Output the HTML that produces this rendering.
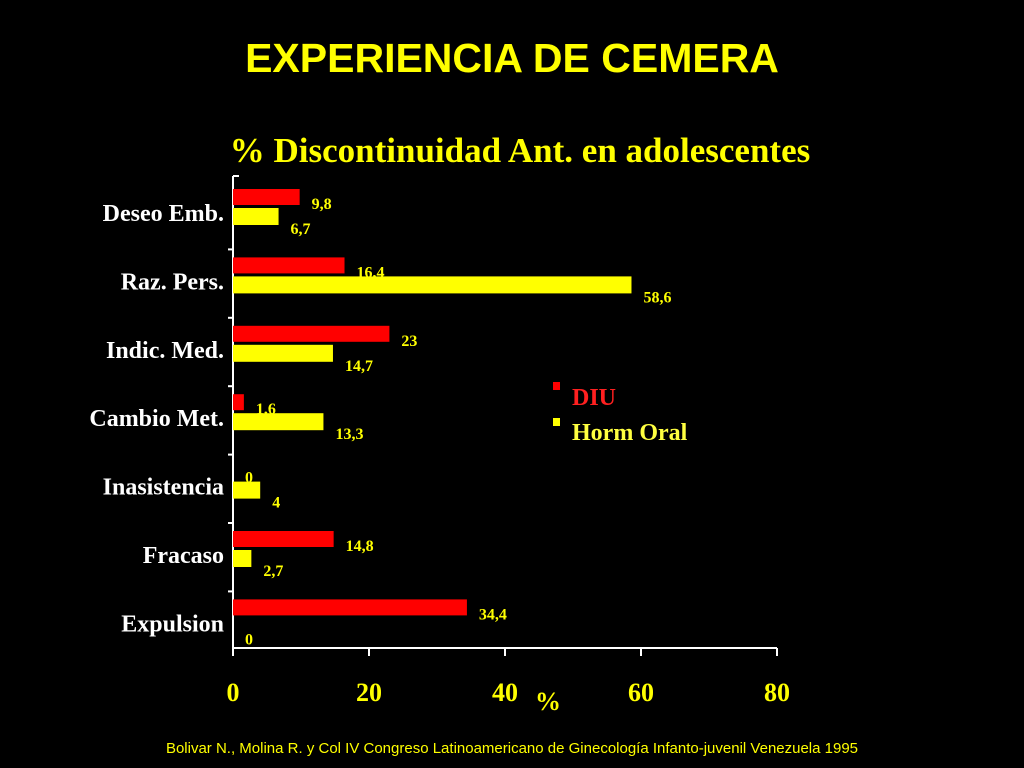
<!DOCTYPE html>
<html><head><meta charset="utf-8"><style>
body{margin:0;background:#000;width:1024px;height:768px;overflow:hidden}
svg{display:block}
.s{font-family:"Liberation Serif",serif;font-weight:bold}
</style></head><body>
<svg width="1024" height="768" viewBox="0 0 1024 768">
<text x="512" y="72" text-anchor="middle" font-family="Liberation Sans,sans-serif" font-weight="bold" font-size="41" fill="#ffff00">EXPERIENCIA DE CEMERA</text>
<text x="520" y="162" text-anchor="middle" class="s" font-size="35" fill="#ffff00">% Discontinuidad Ant. en adolescentes</text>
<g id="plot"></g>
<rect x="553" y="382" width="7" height="8" fill="#ff0000"/>
<text x="572" y="405" class="s" font-size="24" fill="#ff2020">DIU</text>
<rect x="553" y="418" width="7" height="8" fill="#ffff00"/>
<text x="572" y="440" class="s" font-size="24" fill="#ffff40">Horm Oral</text>
<text x="548" y="710" text-anchor="middle" class="s" font-size="26" fill="#ffff00">%</text>
<text x="512" y="753" text-anchor="middle" font-family="Liberation Sans,sans-serif" font-size="15" fill="#ffff00">Bolivar N., Molina R. y Col IV Congreso Latinoamericano de Ginecología Infanto-juvenil Venezuela 1995</text>
</svg>
<script>
const categories=["Deseo Emb.","Raz. Pers.","Indic. Med.","Cambio Met.","Inasistencia","Fracaso","Expulsion"];
const diu=[9.8,16.4,23,1.6,0,14.8,34.4];
const oral=[6.7,58.6,14.7,13.3,4,2.7,0];
const diuLabels=["9,8","16,4","23","1,6","0","14,8","34,4"];
const oralLabels=["6,7","58,6","14,7","13,3","4","2,7","0"];
const xTicks=[0,20,40,60,80];
const NS="http://www.w3.org/2000/svg";
const g=document.getElementById('plot');
const X0=233,PX=6.8,Y0=189,STEP=68.4;
const xs=v=>X0+v*PX;
function mk(t,a){const e=document.createElementNS(NS,t);for(const k in a)e.setAttribute(k,a[k]);g.appendChild(e);return e;}
// axes
let ax=mk('line',{x1:X0,y1:176,x2:X0,y2:656,stroke:'#fff','stroke-width':2});


let bx=mk('line',{x1:X0,y1:648,x2:xs(80),y2:648,stroke:'#fff','stroke-width':2});


mk('line',{x1:X0,y1:176,x2:X0+6,y2:176,stroke:'#fff','stroke-width':2});
for(let k=1;k<categories.length;k++){
 const y=Y0+STEP*k-8;
 const t=mk('line',{x1:X0-5,y1:y,x2:X0,y2:y,stroke:'#fff','stroke-width':2});
 
 
}
xTicks.forEach(v=>{
 const t=mk('line',{x1:xs(v),y1:648,x2:xs(v),y2:656,stroke:'#fff','stroke-width':2});
 
 
 const l=mk('text',{x:xs(v),y:701,'text-anchor':'middle','class':'s','font-size':26,fill:'#ffff00'});
 l.textContent=v;
 
 
});
categories.forEach((c,k)=>{
 const top=Y0+STEP*k;
 const cl=mk('text',{x:224,y:top+32,'text-anchor':'end','class':'s','font-size':24,fill:'#fff'});
 cl.textContent=c;
 
 
 if(diu[k]>0){const r=mk('rect',{x:X0,y:top,width:diu[k]*PX,height:16,fill:'#ff0000'});
 
 }
 if(oral[k]>0){const r=mk('rect',{x:X0,y:top+19,width:oral[k]*PX,height:17,fill:'#ffff00'});
 
 }
 const a=mk('text',{x:xs(diu[k])+12,y:top+20,'class':'s','font-size':16,fill:'#ffff00'});
 a.textContent=diuLabels[k];
 
 
 const b=mk('text',{x:xs(oral[k])+12,y:top+45,'class':'s','font-size':16,fill:'#ffff00'});
 b.textContent=oralLabels[k];
 
 
});
</script>
</body></html>
